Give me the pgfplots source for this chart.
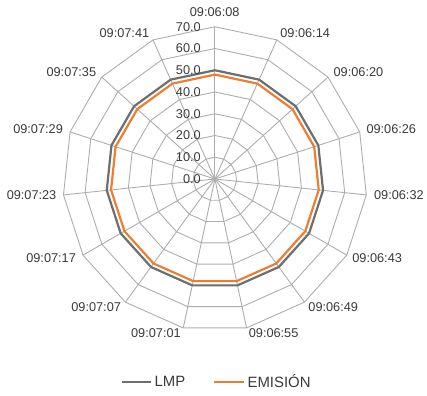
\documentclass[border=0pt]{standalone}
\usepackage{pgfplots}
\pgfplotsset{compat=1.18}
\usepackage{pgfplotstable}
\usepackage{fontspec}
\setmainfont{Liberation Sans}
\definecolor{lmpc}{HTML}{6E6E6E}
\definecolor{emic}{HTML}{ED7D31}
\definecolor{gridc}{HTML}{ADADAD}
\definecolor{txt}{HTML}{3A3A3A}

\pgfplotstableread{
angle lmp emi
0   50 48
24  50 48
48  50 48
72  50 48
96  50 48
120 50 48
144 50 48
168 50 48
192 50 48
216 50 48
240 50 48
264 50 48
288 50 48
312 50 48
336 50 48
360 50 48
}\radar

\begin{document}
\begin{tikzpicture}[font=\fontsize{12.8bp}{15bp}\selectfont, text=txt]
\begin{axis}[
  x=2.186bp, y=2.186bp,
  xmin=-98.8, xmax=96.5, ymin=-99.7, ymax=82.3,
  hide axis, clip=false,
  legend style={at={(axis cs:0.7,-93.3)}, anchor=center, draw=none, fill=none,
    legend columns=2, font=\fontsize{15bp}{17bp}\selectfont, text=txt,
    /tikz/every even column/.append style={column sep=26bp},
    legend cell align=left},
  legend image code/.code={\draw[#1, line width=2.6bp] (0bp,0bp) -- (30bp,0bp);},
]
\path (rel axis cs:0,0) rectangle (rel axis cs:1,1);
% grid rings
\pgfplotsinvokeforeach{10,20,30,40,50,60,70}{
  \addplot[gridc, line width=0.9bp, forget plot] table[x expr={#1*sin(\thisrow{angle})}, y expr={#1*cos(\thisrow{angle})}] {\radar};
}
% spokes
\pgfplotsinvokeforeach{0,24,48,72,96,120,144,168,192,216,240,264,288,312,336}{
  \draw[gridc, line width=0.9bp] (axis cs:0,0) -- (axis cs:{70*sin(#1)},{70*cos(#1)});
}
% series
\addplot[lmpc, line width=2.2bp] table[x expr={\thisrow{lmp}*sin(\thisrow{angle})}, y expr={\thisrow{lmp}*cos(\thisrow{angle})}] {\radar};
\addlegendentry{LMP}
\addplot[emic, line width=2.2bp] table[x expr={\thisrow{emi}*sin(\thisrow{angle})}, y expr={\thisrow{emi}*cos(\thisrow{angle})}] {\radar};
\addlegendentry{EMISIÓN}
% radial tick labels
\pgfplotsinvokeforeach{0,10,20,30,40,50,60,70}{
  \node[anchor=east, inner sep=0pt] at (axis cs:-6.4,#1) {#1.0};
}
% category labels
\node at (axis cs:-0.1,76.9) {09:06:08};
\node at (axis cs:41.5,67.1) {09:06:14};
\node at (axis cs:66.0,49.1) {09:06:20};
\node at (axis cs:81.1,22.9) {09:06:26};
\node at (axis cs:84.6,-7.3) {09:06:32};
\node at (axis cs:74.6,-36.3) {09:06:43};
\node at (axis cs:54.4,-58.7) {09:06:49};
\node at (axis cs:27.0,-70.9) {09:06:55};
\node at (axis cs:-27.1,-70.9) {09:07:01};
\node at (axis cs:-54.6,-58.7) {09:07:07};
\node at (axis cs:-75.3,-36.3) {09:07:17};
\node at (axis cs:-84.3,-7.3) {09:07:23};
\node at (axis cs:-81.3,22.9) {09:07:29};
\node at (axis cs:-66.0,49.1) {09:07:35};
\node at (axis cs:-41.6,67.1) {09:07:41};
\end{axis}
\end{tikzpicture}
\end{document}
